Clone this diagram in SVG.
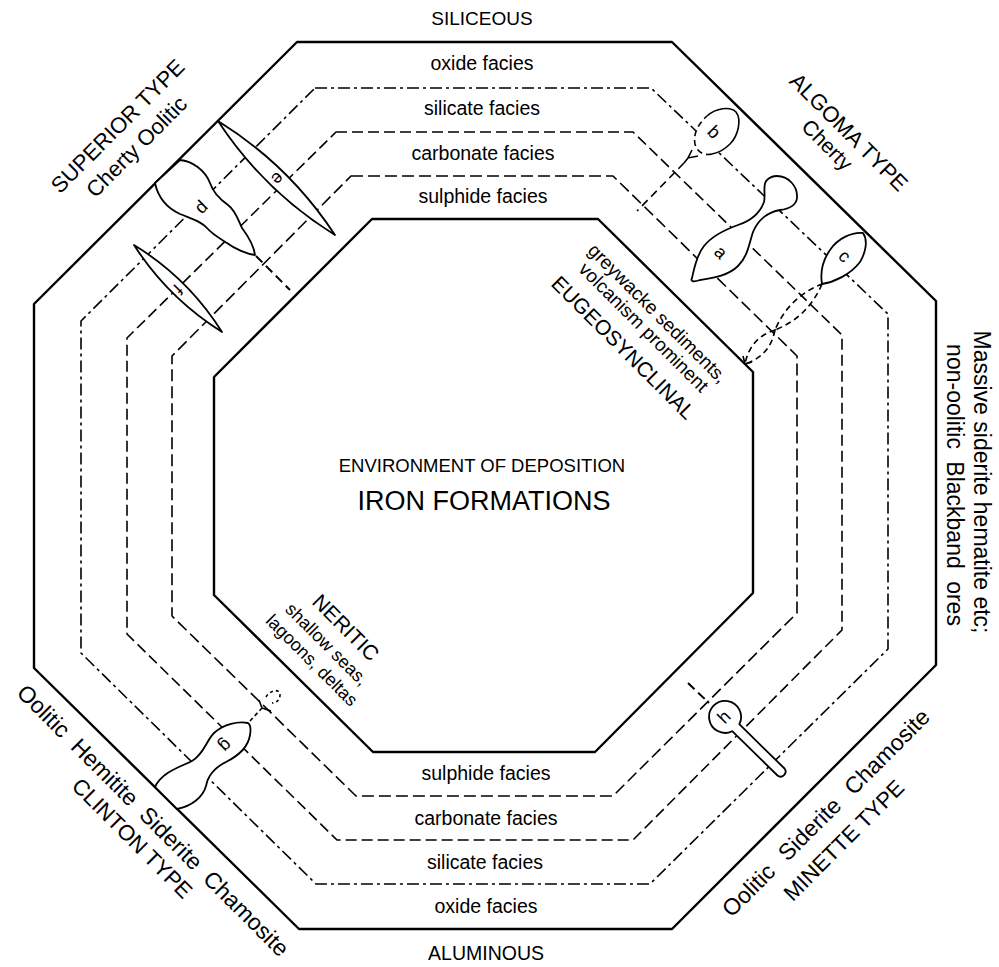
<svg xmlns="http://www.w3.org/2000/svg" width="999" height="967" viewBox="0 0 999 967">
<style>
.solid{fill:none;stroke:#000;stroke-width:2.4;stroke-linejoin:round}
.lv{fill:none;stroke:#000;stroke-width:1.6;stroke-linejoin:round}
.d1{stroke-dasharray:12 4 3 4}
.d2{stroke-dasharray:11 5}
.d3{stroke-dasharray:12 5}
.blob{fill:#fff;stroke:#000;stroke-width:1.8;stroke-linejoin:round}
.ln{fill:none;stroke:#000;stroke-width:1.6}
.thick{fill:none;stroke:#000;stroke-width:2;stroke-dasharray:9 5}
text{font-family:'Liberation Sans',Arial,sans-serif;fill:#000}
.fac{font-size:19.5px;text-anchor:middle}
.lab{font-size:18px;text-anchor:middle}
</style>
<rect width="999" height="967" fill="#fff"/>
<g id="octagons">
<polygon id="outer" class="solid" points="297,42 672,42 936,301 936,665 672,929 299,929 34,668 34,304"/>
<polygon id="level1" class="lv d1" points="315,88 651,88 888,314 888,649 650,884 316,884 81,653 81,321"/>
<polygon id="level2" class="lv d2" points="336,132 633,132 842,335 842,630 633,840 337,840 127,634 127,338"/>
<polygon id="level3" class="lv d3" points="351,176 613,176 797,356 797,613 613,796 356,796 172,616 172,356"/>
<polygon id="inner" class="solid" points="372,219 598,219 753,372 753,593 595,752 373,752 214,595 214,377"/>
</g>
<g id="connectors">
<path class="thick" d="M256,256 L290,290"/>
<path class="ln" d="M684,163 L637,211" stroke-dasharray="8 5"/>
<path class="ln" d="M692,150 L688,158 L698,156 M688,158 L684,163"/>
<path class="ln" d="M822,284 Q808,317 775,330 Q789,297 822,284 Z M775,330 Q770,356 745,364 Q750,338 775,330 Z" stroke-dasharray="6 4"/>
<path class="ln" d="M743,356 L745,364 L752,362"/>
<path class="ln" d="M250,721 L262,708" stroke-dasharray="4 3"/>
<path class="ln" d="M262,708 L259,700 M262,708 L271,711"/>
<path class="ln" d="M266,697 C270,690 280,688 280,695 C280,700 276,703 272,703" stroke-dasharray="3 3"/>
<path class="thick" d="M688,683 L709,703"/>
</g>
<g id="blob-d">
<path class="blob" d="M180,160 C192,161 205,170 210,183 C213,192 218,198 228,205 C236,211 238,220 242,228 C248,236 254,247 255,255 C247,254 235,249 227,243 C219,238 212,234 207,228 C201,221 192,219 180,214 C167,208 158,197 155,183 Z"/>
<text class="lab" transform="translate(201,207) rotate(-45)" y="6">d</text>
</g>
<g id="blob-e">
<path class="blob" d="M218,121 Q289,165 335,235 Q264,191 218,121 Z"/>
<text class="lab" transform="translate(277,178) rotate(135)" y="5">e</text>
</g>
<g id="blob-f">
<path class="blob" d="M134,245 Q188,278 222,332 Q168,298 134,245 Z"/>
<text class="lab" transform="translate(178,289) rotate(135)" y="6">f</text>
</g>
<g id="blob-b">
<path d="M707,116 C716,108 730,106 736,112 C742,120 738,136 730,144 C724,150 718,153 712,154 C704,156 697,152 695,144 C693,134 698,124 707,116 Z" fill="#fff"/>
<path class="ln" stroke-width="1.8" d="M707,116 C716,108 730,106 736,112 C742,120 738,136 730,144 C724,150 718,153 712,154"/>
<path class="ln" stroke-width="1.8" stroke-dasharray="6 4" d="M712,154 C704,156 697,152 695,144 C693,134 698,124 707,116"/>
<text class="lab" transform="translate(714,132) rotate(45)" y="6">b</text>
</g>
<g id="blob-a">
<path class="blob" d="M777,176 C788,176 798,186 797,198 C796,206 788,209 780,210 C768,212 758,220 753,232 C749,244 748,256 738,266 C728,276 712,278 700,280 C694,282 690,282 692,278 C694,270 696,256 704,246 C712,236 724,230 738,225 C750,221 760,213 764,202 C766,194 762,184 767,180 C770,177 773,176 777,176 Z"/>
<text class="lab" transform="translate(720,253) rotate(45)" y="5">a</text>
</g>
<g id="blob-c">
<path class="blob" d="M863,233 C852,232 838,238 830,250 C823,260 820,272 822,284 C834,282 850,275 860,262 C866,252 868,240 863,233 Z"/>
<text class="lab" transform="translate(844,257) rotate(45)" y="5">c</text>
</g>
<g id="blob-g">
<path class="blob" d="M248,723 C238,721 224,724 214,733 C206,741 204,754 192,761 C180,767 162,772 155,787 L177,809 C192,806 203,797 206,786 C208,775 214,768 226,762 C238,756 248,748 250,735 C251,729 251,725 248,723 Z"/>
<text class="lab" transform="translate(225,745) rotate(135)" y="5">g</text>
</g>
<g id="blob-h">
<path class="blob" d="M739.3,724.2 L784.5,768.5 A5,5 0 0 1 777.5,775.5 L732.2,731.2 A16,16 0 1 1 739.3,724.2 Z"/>
<text class="lab" transform="translate(724,717) rotate(-45)" y="6">h</text>
</g>
<g id="facies-top">
<text class="fac" x="482" y="70">oxide facies</text>
<text class="fac" x="482" y="115">silicate facies</text>
<text class="fac" x="483" y="160">carbonate facies</text>
<text class="fac" x="483" y="203">sulphide facies</text>
</g>
<g id="facies-bottom">
<text class="fac" x="486" y="780">sulphide facies</text>
<text class="fac" x="486" y="825">carbonate facies</text>
<text class="fac" x="485" y="869">silicate facies</text>
<text class="fac" x="486" y="913">oxide facies</text>
</g>
<g id="poles">
<text x="482" y="25" font-size="19" text-anchor="middle">SILICEOUS</text>
<text x="486" y="960" font-size="19.5" text-anchor="middle">ALUMINOUS</text>
</g>
<g id="centre">
<text x="482" y="472" font-size="18.5" text-anchor="middle">ENVIRONMENT OF DEPOSITION</text>
<text x="484" y="510" font-size="27" text-anchor="middle">IRON FORMATIONS</text>
</g>
<g id="superior">
<text transform="translate(117.5,126) rotate(-45)" y="7.7" font-size="22" text-anchor="middle">SUPERIOR TYPE</text>
<text transform="translate(137,147) rotate(-45)" y="7" font-size="22" text-anchor="middle">Cherty Oolitic</text>
</g>
<g id="algoma">
<text transform="translate(849,132) rotate(45)" y="7.7" font-size="22" text-anchor="middle">ALGOMA TYPE</text>
<text transform="translate(827,145) rotate(45)" y="7" font-size="21" text-anchor="middle">Cherty</text>
</g>
<g id="massive">
<text transform="translate(974,482) rotate(90)" font-size="23" text-anchor="middle">Massive siderite hematite etc;</text>
<text transform="translate(947,485) rotate(90)" font-size="23" text-anchor="middle" word-spacing="6">non-oolitic Blackband ores</text>
</g>
<g id="eugeosynclinal">
<text transform="translate(657,314) rotate(45)" y="5.5" font-size="19" text-anchor="middle">greywacke sediments,</text>
<text transform="translate(643,328) rotate(45)" y="5.5" font-size="19" text-anchor="middle">volcanism prominent</text>
<text transform="translate(623.5,347.5) rotate(45)" y="7.5" font-size="21" text-anchor="middle">EUGEOSYNCLINAL</text>
</g>
<g id="neritic">
<text transform="translate(346,627.5) rotate(45)" y="7.5" font-size="21" text-anchor="middle">NERITIC</text>
<text transform="translate(326,645) rotate(45)" y="5" font-size="18" text-anchor="middle">shallow seas,</text>
<text transform="translate(311,661) rotate(45)" y="5" font-size="18" text-anchor="middle">lagoons, deltas</text>
</g>
<g id="clinton">
<text transform="translate(152.5,821) rotate(45)" y="7" font-size="23" text-anchor="middle" word-spacing="6">Oolitic Hemitite Siderite Chamosite</text>
<text transform="translate(132.5,838) rotate(45)" y="8" font-size="22" text-anchor="middle">CLINTON TYPE</text>
</g>
<g id="minette">
<text transform="translate(826.5,813.5) rotate(-45)" y="7" font-size="23" text-anchor="middle" word-spacing="9">Oolitic Siderite Chamosite</text>
<text transform="translate(843.5,840) rotate(-45)" y="8" font-size="22" text-anchor="middle">MINETTE TYPE</text>
</g>
</svg>
